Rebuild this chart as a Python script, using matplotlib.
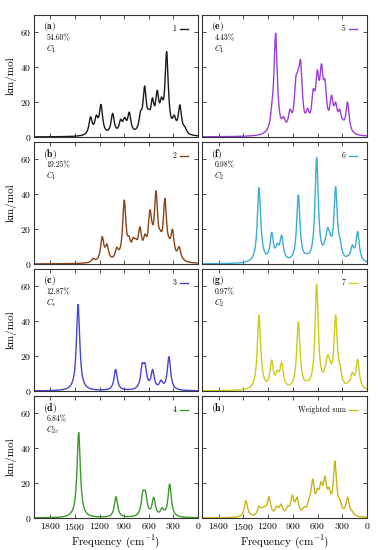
import numpy as np
import matplotlib
matplotlib.use("Agg")
import matplotlib.pyplot as plt

plt.rcParams['font.family'] = 'serif'
plt.rcParams['font.serif'] = ['cmr10']
plt.rcParams['mathtext.fontset'] = 'cm'
plt.rcParams['axes.formatter.use_mathtext'] = True

# curve heights at peaks / shoulders / valleys
# (frequency in cm-1, height in km/mol)
freq_1 = [1310, 1240, 1183, 1041, 943, 894, 838, 700, 650, 600, 555, 497, 445, 382, 290, 220, 160]
height_1 = [11.6, 12.6, 18.7, 13.6, 10.2, 11.3, 14.3, 15, 29.3, 16, 22.5, 26.8, 23, 49, 12.6, 18.4, 6]

freq_2 = [1277, 1168, 1110, 990, 899, 866, 840, 789, 757, 708, 647, 586, 564, 512, 460, 403, 354, 311, 230, 180]
height_2 = [3.3, 15.7, 11.5, 9.6, 36.7, 14.2, 16, 15.3, 14.6, 21.4, 17.2, 31, 24.9, 42, 19.5, 37.7, 15.3, 19.9, 10, 3]

freq_3 = [1462, 1004, 680, 645, 553, 451, 354]
height_3 = [49.7, 12.4, 16, 16, 12.4, 6.3, 19.7]

freq_4 = [1455, 1000, 672, 640, 540, 437, 345]
height_4 = [49.1, 12.2, 15.7, 15.5, 11.9, 5.9, 19.5]

freq_5 = [1150, 1107, 1010, 933, 861, 833, 804, 760, 720, 651, 602, 552, 509, 430, 380, 330, 290, 236, 180]
height_5 = [21, 59.5, 11.7, 16, 35, 38.8, 44, 15, 16.5, 27.6, 38.5, 42, 33, 24, 20, 16, 10, 20, 3]

freq_6 = [1309, 1264, 1155, 1087, 1034, 966, 832, 731, 610, 509, 477, 448, 380, 327, 226, 178, 113]
height_6 = [43.8, 11.9, 18.2, 11.9, 16.6, 3.3, 39.6, 6.1, 61, 13.8, 20.9, 17.6, 44.4, 14.7, 5.2, 10.9, 18.6]

freq_7 = [1309, 1264, 1155, 1087, 1034, 966, 832, 731, 610, 509, 477, 448, 380, 327, 226, 178, 113]
height_7 = [43.6, 11.5, 17.8, 12, 16.5, 3.3, 39.8, 6, 61.2, 13.8, 20.7, 17.5, 43.6, 15, 5.2, 10.7, 18.2]

freq_w = [1467, 1309, 1269, 1236, 1188, 1148, 1094, 1042, 961, 905, 848, 760, 700, 658, 600, 557, 509, 460, 388, 327, 234, 180]
height_w = [10, 6.9, 6.1, 6.9, 12.2, 4.6, 6.9, 8, 6.9, 13.2, 11.9, 6.5, 12, 22.4, 17, 20.9, 24.1, 17.6, 32.7, 10.7, 11.9, 4]

labels = ['1', '2', '3', '4', '5', '6', '7', 'Weighted sum']
letters = ['a', 'b', 'c', 'd', 'e', 'f', 'g', 'h']
shares = ['54.60%', '19.25%', '12.87%', '6.84%', '4.43%', '0.98%', '0.97%', None]
groups = [r'$C_1$', r'$C_1$', r'$C_s$', r'$C_{2v}$', r'$C_1$', r'$C_2$', r'$C_2$', None]
colors = ['#1a1a1a', '#8c4318', '#4545d5', '#3c9a2c', '#9b3fd9', '#3aaed4', '#cccc1a', '#c9b416']

spectra = [(freq_1, height_1), (freq_2, height_2), (freq_3, height_3), (freq_4, height_4),
           (freq_5, height_5), (freq_6, height_6), (freq_7, height_7), (freq_w, height_w)]

hwhm = 24.0
grid = np.linspace(0, 2000, 2001)


def lorentz(x, x0):
    return hwhm**2 / ((x - x0)**2 + hwhm**2)


def stick_intensities(freqs, heights):
    # find non-negative line intensities whose Lorentzian sum hits the read heights
    f = np.array(freqs, float)
    h = np.array(heights, float)
    M = lorentz(f[:, None], f[None, :])
    a = h.copy()
    for _ in range(800):
        a = np.clip(a + 0.4 * (h - M @ a), 0, None)
    return a


def broaden(freqs, heights):
    a = stick_intensities(freqs, heights)
    y = np.zeros_like(grid)
    for f0, ai in zip(freqs, a):
        y += ai * lorentz(grid, f0)
    return y


fig = plt.figure(figsize=(3.78, 5.5), dpi=100)

W, H = 378.0, 550.0
lefts = [34, 202]
widths = [164, 165]
tops = [15, 142, 269, 396]
ph = 122

for i in range(8):
    col = i // 4
    row = i % 4
    ax = fig.add_axes([lefts[col] / W, 1 - (tops[row] + ph) / H, widths[col] / W, ph / H])
    f, h = spectra[i]
    ax.plot(grid, broaden(f, h), color=colors[i], lw=1.0, label=labels[i])
    ax.set_xlim(2000, 0)
    ax.set_ylim(0, 70)
    ax.set_xticks([1800, 1500, 1200, 900, 600, 300, 0])
    ax.set_yticks([0, 20, 40, 60])
    ax.tick_params(direction='in', length=3, width=0.6, top=True, right=True,
                   labelsize=7, pad=2, colors='#333333', labelcolor='black')
    for sp in ax.spines.values():
        sp.set_color('#333333')
        sp.set_linewidth(0.8)
    if row < 3:
        ax.set_xticklabels([])
    else:
        ax.set_xlabel(r'Frequency (cm$^{-1}$)', fontsize=8, labelpad=1)
    if col == 1:
        ax.set_yticklabels([])
    else:
        ax.set_ylabel('km/mol', fontsize=8, labelpad=2)

    ax.text(0.055, 0.955, r'$\mathbf{(' + letters[i] + ')}$', transform=ax.transAxes,
            fontsize=7, va='top', ha='left')
    if shares[i] is not None:
        ax.text(0.075, 0.845, shares[i], transform=ax.transAxes, fontsize=5.5, va='top', ha='left')
        ax.text(0.075, 0.77, groups[i], transform=ax.transAxes, fontsize=6, va='top', ha='left')

    ax.legend(loc='upper right', frameon=False, fontsize=5.5, handlelength=1.0,
              markerfirst=False, borderaxespad=0.9, handletextpad=0.5)

fig.savefig('out.png', dpi=100)
